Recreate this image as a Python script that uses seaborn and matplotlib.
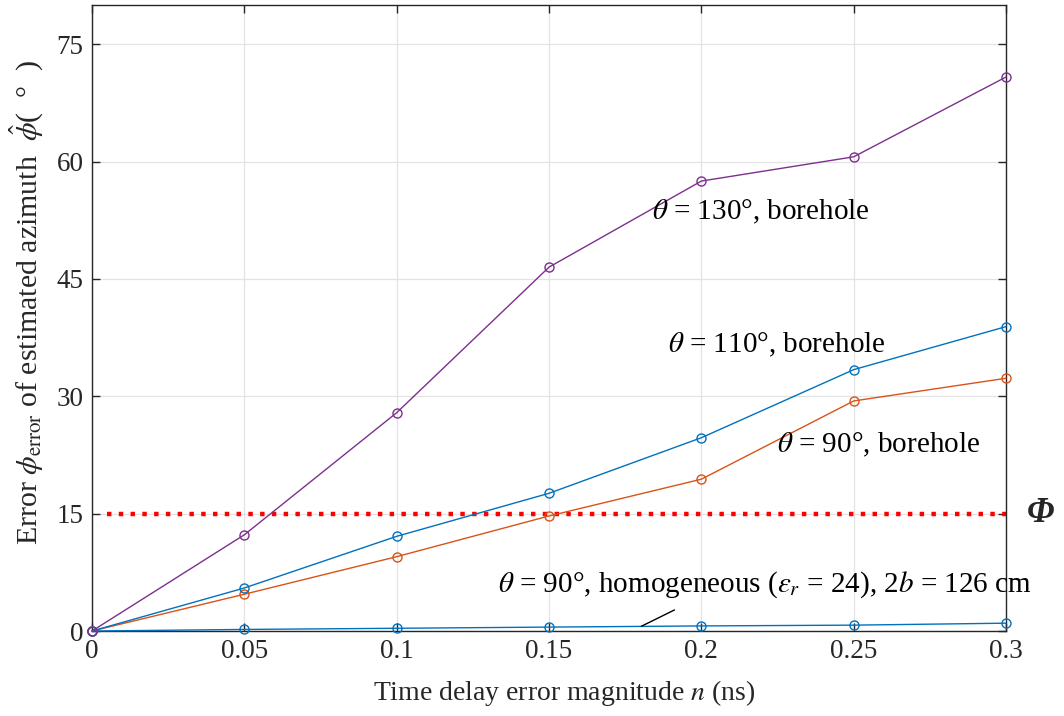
import numpy as np
import pandas as pd
import matplotlib
matplotlib.use("Agg")
import matplotlib.pyplot as plt
import seaborn as sns

# ---- data ----
n_values = [0, 0.05, 0.1, 0.15, 0.2, 0.25, 0.3]
err_130_borehole = [0, 12.3, 27.9, 46.5, 57.5, 60.6, 70.8]
err_110_borehole = [0, 5.5, 12.1, 17.6, 24.7, 33.4, 38.9]
err_90_borehole = [0, 4.7, 9.5, 14.7, 19.4, 29.4, 32.3]
err_90_homog = [0, 0.2, 0.35, 0.5, 0.65, 0.75, 1.0]
phi_threshold = 15
x_ticks = [0, 0.05, 0.1, 0.15, 0.2, 0.25, 0.3]
x_tick_labels = ["0", "0.05", "0.1", "0.15", "0.2", "0.25", "0.3"]
y_ticks = [0, 15, 30, 45, 60, 75]

sns.set_style("ticks")
plt.rcParams['font.family'] = ['Liberation Serif', 'DejaVu Serif']
plt.rcParams['mathtext.fontset'] = 'stix'

fig = plt.figure(figsize=(10.64, 7.16), dpi=100)
ax = fig.add_axes([0.0865, 0.1187, 0.859, 0.8743])

blue = '#0072BD'
orange = '#D95319'
purple = '#7E2F8E'

series = [
    (err_90_homog, blue),
    (err_90_borehole, orange),
    (err_110_borehole, blue),
    (err_130_borehole, purple),
]
for vals, col in series:
    df = pd.DataFrame({"n": n_values, "err": vals})
    sns.lineplot(data=df, x="n", y="err", ax=ax, color=col, lw=1.0,
                 marker='o', markersize=6.5, markerfacecolor='none',
                 markeredgecolor=col, markeredgewidth=1.0, clip_on=False, zorder=3)

# threshold line
ax.plot([0.005, 0.302], [phi_threshold, phi_threshold], color='red', ls=':',
        lw=3.2, clip_on=False, zorder=2)

ax.set_xlim(0, 0.3)
ax.set_ylim(0, 80)
ax.set_xticks(x_ticks)
ax.set_xticklabels(x_tick_labels)
ax.set_yticks(y_ticks)
ax.tick_params(direction='in', top=True, right=True, labelsize=19.5, length=6,
               width=1.0, colors='#262626', labelcolor='#262626', pad=6)
ax.grid(True, color='#e3e3e3', lw=0.9)
ax.set_axisbelow(True)
for s in ax.spines.values():
    s.set_visible(True)
    s.set_color('#262626')
    s.set_linewidth(1.0)

ax.set_xlabel(r'Time delay error magnitude $n$ (ns)', fontsize=20, labelpad=7)
ax.xaxis.set_label_coords(0.517, -0.075)
ax.set_ylabel(r'Error $\phi_{\mathrm{error}}$ of estimated azimuth  $\hat{\phi}$(  °  )',
              fontsize=21.5, labelpad=2)
ax.yaxis.set_label_coords(-0.05, 0.525)

tkw = dict(fontsize=21, color='black')
ax.text(0.1838, 53.5, r'$\theta$ = 130°, borehole', ha='left', va='center', **tkw)
ax.text(0.1890, 36.6, r'$\theta$ = 110°, borehole', ha='left', va='center', **tkw)
ax.text(0.2248, 23.8, r'$\theta$ = 90°, borehole', ha='left', va='center', **tkw)
ax.text(0.1333, 5.9, r'$\theta$ = 90°, homogeneous ($\varepsilon_r$ = 24), 2$b$ = 126 cm',
        ha='left', va='center', clip_on=False, **tkw)
ax.annotate('', xy=(0.1795, 0.45), xytext=(0.192, 2.85),
            arrowprops=dict(arrowstyle='-', color='black', lw=1.0))
ax.text(0.3068, 15, 'Φ', ha='left', va='center', fontsize=25,
        fontweight='bold', fontstyle='italic', clip_on=False)

fig.savefig('out.png', dpi=100)
